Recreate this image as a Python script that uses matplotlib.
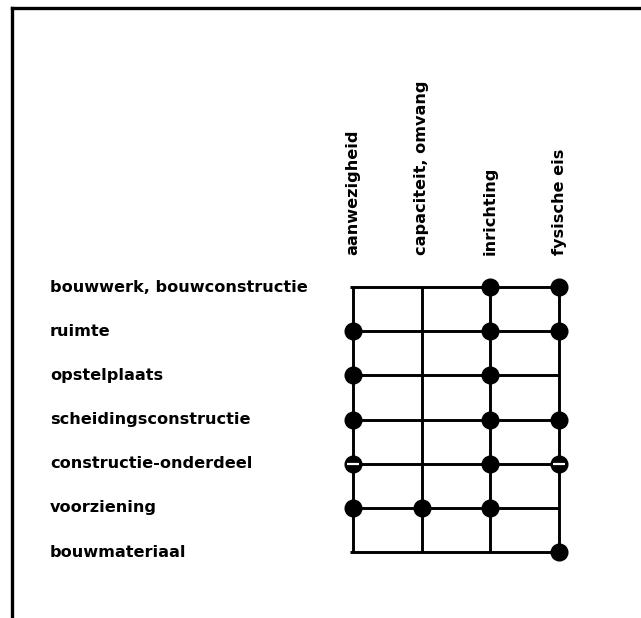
import numpy as np
import matplotlib
matplotlib.use("Agg")
from matplotlib import pyplot as plt
from matplotlib.lines import Line2D

# rows (objects) and columns (aspects)
rows = ["bouwwerk, bouwconstructie", "ruimte", "opstelplaats",
        "scheidingsconstructie", "constructie-onderdeel", "voorziening",
        "bouwmateriaal"]
cols = ["aanwezigheid", "capaciteit, omvang", "inrichting", "fysische eis"]

# 1 = filled dot, 2 = dot with white bar, 0 = nothing
marks = [
    [0, 0, 1, 1],
    [1, 0, 1, 1],
    [1, 0, 1, 0],
    [1, 0, 1, 1],
    [2, 0, 1, 2],
    [1, 1, 1, 0],
    [0, 0, 0, 1],
]

W, H = 641, 618
fig = plt.figure(figsize=(W / 100, H / 100), dpi=100)
ax = fig.add_axes([0, 0, 1, 1])

# map pixel layout onto row/column indices
x0, dx = 353, 68.67
y0, dy = 287, 44.17
ax.set_xlim(-x0 / dx, (W - x0) / dx)
ax.set_ylim((H - y0) / dy, -y0 / dy)
ax.axis("off")

nr, nc = len(rows), len(cols)
lw = 2.1
for r in range(nr):
    ax.plot([-0.04, nc - 1], [r, r], color="black", lw=lw, solid_capstyle="butt")
for c in range(nc):
    ax.plot([c, c], [0, nr - 1], color="black", lw=lw, solid_capstyle="butt")

m = np.array(marks)
rr, cc = np.nonzero(m)
ax.plot(cc, rr, "o", color="black", markersize=12, linestyle="none")
hr, hc = np.nonzero(m == 2)
ax.plot(hc, hr, "_", color="white", markersize=9, mew=1.6, linestyle="none")

font = dict(family="DejaVu Sans", fontweight="bold", fontsize=11.6, color="black")

# row labels start at pixel x=50
for r, name in enumerate(rows):
    ax.text((50 - x0) / dx, r, name, ha="left", va="center", **font)

# column labels end at pixel y=255
ylab = (255 - y0) / dy
for c, name in enumerate(cols):
    ax.text(c, ylab, name, rotation=90, ha="center", va="bottom", **font)

# frame lines (top and left)
fig.add_artist(Line2D([12 / W, 1], [1 - 8 / H, 1 - 8 / H], color="black", lw=2.4,
                      transform=fig.transFigure))
fig.add_artist(Line2D([12 / W, 12 / W], [0, 1 - 8 / H], color="black", lw=2.4,
                      transform=fig.transFigure))

fig.savefig("out.png", dpi=100, facecolor="white")
